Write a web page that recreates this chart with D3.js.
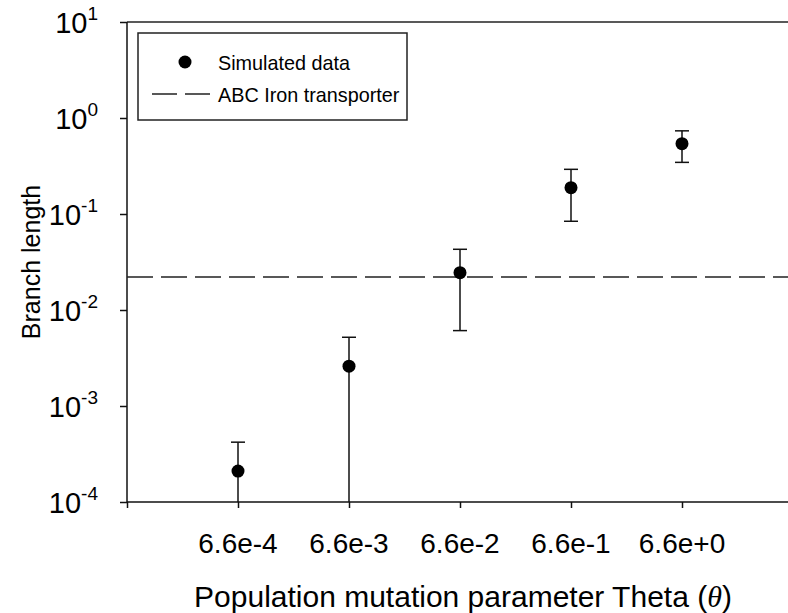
<!DOCTYPE html>
<html>
<head>
<meta charset="utf-8">
<script src="https://cdn.jsdelivr.net/npm/d3@7"></script>
<style>
   body { margin: 0; background: #fff; }
   svg { display: block; font-family: "Liberation Sans", Arial, sans-serif; }
</style>
</head>
<body>
<svg id="chart" width="788" height="613"></svg>
<script>
// x categories (theta)
const Categories = ['6.6e-4', '6.6e-3', '6.6e-2', '6.6e-1', '6.6e+0'];

// simulated branch length: mean and sd
const MeanValues = [2.1e-4, 2.6e-3, 0.0245, 0.188, 0.54];
const ErrorValues = [2.1e-4, 2.6e-3, 0.0184, 0.104, 0.195];

// ABC Iron transporter reference line
const ReferenceValue = 0.0221;

// y tick exponents (10^n)
const YTickExponents = [-4, -3, -2, -1, 0, 1];

// legend entries
const LegendLabels = ['Simulated data', 'ABC Iron transporter'];

const svg = d3.select('#chart');
const plotLeft = 127, plotTop = 22, plotBottom = 502;

const x = d3.scaleLinear().domain([0, Categories.length + 1]).range([plotLeft, plotLeft + 111 * (Categories.length + 1)]);
const y = d3.scaleLog().domain([1e-4, 10]).range([plotBottom, plotTop]).clamp(true);

drawAxes();
drawReference();
drawPoints();
drawLegend();
drawTitles();

// axes and frame
function drawAxes() {
   const xTicks = d3.range(0, Categories.length + 1);
   const xAxis = svg.append('g')
      .attr('transform', `translate(0,${plotBottom})`)
      .call(d3.axisBottom(x).tickValues(xTicks).tickSize(6).tickFormat(''));

   const yAxis = svg.append('g')
      .attr('transform', `translate(${plotLeft},0)`)
      .call(d3.axisLeft(y).tickValues(YTickExponents.map((e) => Math.pow(10, e))).tickSize(7).tickFormat(''));

   [xAxis, yAxis].forEach((g) => {
      g.select('.domain').remove();
      g.selectAll('.tick line').attr('stroke', '#111').attr('stroke-width', 1.5);
   });

   // frame lines
   svg.append('line')
      .attr('x1', plotLeft).attr('x2', 788).attr('y1', plotTop).attr('y2', plotTop)
      .attr('stroke', '#222').attr('stroke-width', 1.5);
   svg.append('line')
      .attr('x1', plotLeft).attr('x2', 788).attr('y1', plotBottom).attr('y2', plotBottom)
      .attr('stroke', '#111').attr('stroke-width', 1.5);
   svg.append('line')
      .attr('x1', plotLeft).attr('x2', plotLeft).attr('y1', plotTop).attr('y2', plotBottom)
      .attr('stroke', '#111').attr('stroke-width', 1.5);

   // x tick labels
   svg.append('g')
      .selectAll('text')
      .data(Categories)
      .enter()
      .append('text')
      .attr('x', (d, i) => x(i + 1))
      .attr('y', 553)
      .attr('text-anchor', 'middle')
      .attr('font-size', 28)
      .text((d) => d);

   // y tick labels 10^n
   const yLabels = svg.append('g')
      .selectAll('text')
      .data(YTickExponents)
      .enter()
      .append('text')
      .attr('x', 98)
      .attr('y', (d) => y(Math.pow(10, d)) + 11)
      .attr('text-anchor', 'end')
      .attr('font-size', 29);
   yLabels.append('tspan').text('10');
   yLabels.append('tspan')
      .attr('font-size', 19)
      .attr('dy', -13)
      .text((d) => d);
}

// dashed reference line
function drawReference() {
   svg.append('line')
      .attr('x1', plotLeft).attr('x2', 788)
      .attr('y1', y(ReferenceValue)).attr('y2', y(ReferenceValue))
      .attr('stroke', '#222')
      .attr('stroke-width', 1.5)
      .attr('stroke-dasharray', '26,8');
}

// points with error bars
function drawPoints() {
   const data = Categories.map((c, i) => ({ i: i + 1, mean: MeanValues[i], err: ErrorValues[i] }));
   const lowY = (d) => (d.mean - d.err > 0 ? y(d.mean - d.err) : plotBottom);
   const highY = (d) => y(d.mean + d.err);

   const g = svg.append('g').attr('stroke', '#111').attr('stroke-width', 1.5);
   g.selectAll('line.bar')
      .data(data)
      .enter()
      .append('line')
      .attr('x1', (d) => x(d.i)).attr('x2', (d) => x(d.i))
      .attr('y1', lowY).attr('y2', highY);
   g.selectAll('line.top')
      .data(data)
      .enter()
      .append('line')
      .attr('x1', (d) => x(d.i) - 7).attr('x2', (d) => x(d.i) + 7)
      .attr('y1', highY).attr('y2', highY);
   g.selectAll('line.low')
      .data(data.filter((d) => d.mean - d.err > 0))
      .enter()
      .append('line')
      .attr('x1', (d) => x(d.i) - 7).attr('x2', (d) => x(d.i) + 7)
      .attr('y1', lowY).attr('y2', lowY);

   svg.append('g')
      .selectAll('circle')
      .data(data)
      .enter()
      .append('circle')
      .attr('cx', (d) => x(d.i))
      .attr('cy', (d) => y(d.mean))
      .attr('r', 6.5)
      .attr('fill', '#000');
}

// legend box
function drawLegend() {
   const lg = svg.append('g');
   lg.append('rect')
      .attr('x', 138).attr('y', 33)
      .attr('width', 269).attr('height', 87)
      .attr('fill', '#fff')
      .attr('stroke', '#222')
      .attr('stroke-width', 1.5);
   lg.append('circle')
      .attr('cx', 185).attr('cy', 62).attr('r', 6.5).attr('fill', '#000');
   lg.append('line')
      .attr('x1', 152).attr('x2', 210).attr('y1', 94).attr('y2', 94)
      .attr('stroke', '#222').attr('stroke-width', 1.5)
      .attr('stroke-dasharray', '25,8');
   lg.selectAll('text')
      .data(LegendLabels)
      .enter()
      .append('text')
      .attr('x', 218)
      .attr('y', (d, i) => 70 + i * 32)
      .attr('font-size', 19.8)
      .text((d) => d);
}

// axis titles
function drawTitles() {
   const xt = svg.append('text')
      .attr('x', plotLeft + 336)
      .attr('y', 607)
      .attr('text-anchor', 'middle')
      .attr('font-size', 30);
   xt.append('tspan').text('Population mutation parameter Theta (');
   xt.append('tspan')
      .attr('font-family', '"Liberation Serif", serif')
      .attr('font-style', 'italic')
      .text('θ');
   xt.append('tspan').text(')');

   svg.append('text')
      .attr('transform', `translate(40,${(plotTop + plotBottom) / 2}) rotate(-90)`)
      .attr('text-anchor', 'middle')
      .attr('font-size', 25)
      .text('Branch length');
}
</script>
</body>
</html>
